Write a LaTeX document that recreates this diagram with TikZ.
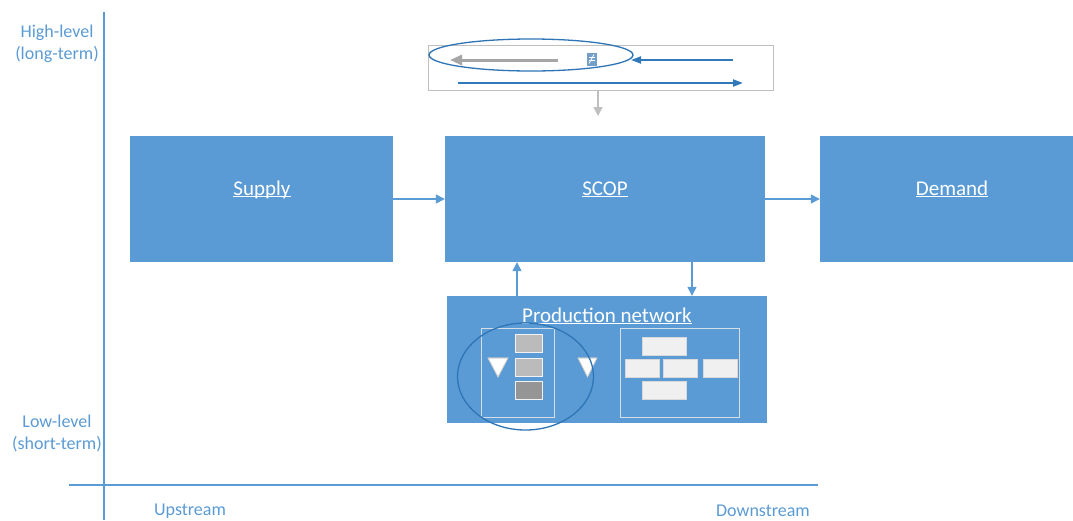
\documentclass[tikz,border=0pt]{standalone}
\usepackage{fontspec}
\setmainfont{Carlito}
\usetikzlibrary{arrows.meta,shapes.geometric}
\definecolor{mblue}{HTML}{5B9BD5}
\definecolor{dblue}{HTML}{2E75B6}
\definecolor{agray}{HTML}{A6A6A6}
\definecolor{dgray}{HTML}{BFBFBF}
\definecolor{frame}{HTML}{D5DDE6}
\newlength\ullen
\newcommand\myul[1]{\settowidth{\ullen}{#1}\rlap{\rule[-2.4pt]{\ullen}{1pt}}#1}
\tikzset{
  bluebox/.style={fill=mblue, draw=none, inner sep=0pt},
  boxlabel/.style={text=white, font=\fontsize{21}{25}\selectfont, inner sep=0pt, anchor=base},
  axlabel/.style={text=mblue, font=\fontsize{18}{22}\selectfont, align=center, inner sep=0pt},
  conn/.style={draw=mblue, line width=1.3pt, -{Triangle[length=9pt,width=9pt]}},
  thinblue/.style={draw=dblue!90!mblue, line width=2pt, -{Triangle[length=10pt,width=7pt]}},
  grayarr/.style={draw=agray, line width=3pt, -{Triangle[length=12pt,width=10pt]}},
  downarr/.style={draw=dgray, line width=1.5pt, -{Triangle[length=9pt,width=9pt]}},
  ring/.style={ellipse, draw=dblue, line width=1.3pt, inner sep=0pt},
  framebox/.style={draw=frame, line width=0.8pt, fill=none, inner sep=0pt},
  gbox/.style={fill=dgray!85!agray, draw=white!80!dgray, line width=1pt, inner sep=0pt},
  wbox/.style={fill=white!94!black, draw=white!85!black, line width=1pt, inner sep=0pt},
  tri/.style={fill=white, draw=white!80!black, line width=0.6pt}
}
\begin{document}
\begin{tikzpicture}[x=1pt,y=-1pt]
\clip (0,0) rectangle (1073,520);
\fill[white] (0,0) rectangle (1073,520);

% axes
\coordinate (vtop) at (104,12);
\coordinate (vbot) at (104,520);
\coordinate (hl) at (69,485);
\coordinate (hr) at (818,485);
\draw[mblue, line width=1.3pt] (vtop) -- (vbot);
\draw[mblue, line width=1.3pt] (hl) -- (hr);

% axis labels
\node[axlabel] (hi) at (57,44) {High-level\\(long-term)};
\node[axlabel] (lo) at (57,433) {Low-level\\(short-term)};
\node[axlabel] (up) at (190,511) {Upstream};
\node[axlabel] (down) at (763,511) {Downstream};

% main boxes
\node[bluebox, minimum width=263pt, minimum height=126pt] (supply) at (261.5,199) {};
\node[bluebox, minimum width=320pt, minimum height=126pt] (scop) at (605,199) {};
\node[bluebox, minimum width=253pt, minimum height=126pt] (demand) at (946.5,199) {};
\node[boxlabel] (supplyl) at (262,195) {\myul{Supply}};
\node[boxlabel] (scopl) at (605,195) {\myul{SCOP}};
\node[boxlabel] (demandl) at (952,195) {\myul{Demand}};

% production network
\node[bluebox, minimum width=320pt, minimum height=127pt] (pn) at (607,359.5) {};
\node[boxlabel] (pnl) at (607,322) {\myul{Production network}};

% connectors
\draw[conn] (supply.east) -- (scop.west);
\draw[conn] (scop.east) -- (demand.west);
\coordinate (ux) at (517,0);
\coordinate (dx) at (692,0);
\draw[conn] (ux |- pn.north) -- (ux |- scop.south);
\draw[conn] (dx |- scop.south) -- (dx |- pn.north);

% top thumbnail
\node[draw=dgray, fill=white, line width=0.8pt, minimum width=345pt, minimum height=45pt, inner sep=0pt] (thumb) at (600.5,67.5) {};
\coordinate (ga1) at (558,60);
\coordinate (ga2) at (450,60);
\draw[grayarr] (ga1) -- (ga2);
\coordinate (ba1) at (733,60);
\coordinate (ba2) at (631,60);
\draw[thinblue] (ba1) -- (ba2);
\coordinate (bb1) at (458,83);
\coordinate (bb2) at (743,83);
\draw[thinblue] (bb1) -- (bb2);
\node[fill=mblue!70!agray, minimum width=10pt, minimum height=13pt, inner sep=0pt] (neq) at (591.5,59) {};
\draw[white, line width=0.8pt] ([xshift=-3pt,yshift=1.5pt]neq.center) -- ++(6,0);
\draw[white, line width=0.8pt] ([xshift=-3pt,yshift=-1pt]neq.center) -- ++(6,0);
\draw[white, line width=0.8pt] ([xshift=-2.5pt,yshift=-4.5pt]neq.center) -- ([xshift=2.5pt,yshift=4.5pt]neq.center);
\node[ring, minimum width=204pt, minimum height=32pt] (ring1) at (531,55) {};
\coordinate (dend) at (598,116);
\draw[downarr] (thumb.south -| dend) -- (dend);

% production network thumbnail contents
\node[framebox, minimum width=73pt, minimum height=89pt] (lf) at (517.5,373) {};
\node[framebox, minimum width=119pt, minimum height=89pt] (rf) at (679.5,373) {};
\node[gbox, minimum width=27pt, minimum height=18pt] (g1) at (528.5,343.5) {};
\node[gbox, minimum width=27pt, minimum height=18pt] (g2) at (528.5,367) {};
\node[gbox, fill=agray!90!black, minimum width=27pt, minimum height=18pt] (g3) at (528.5,390.5) {};
\fill[tri] (488,358) -- (508,358) -- (498,377) -- cycle;
\fill[tri] (578,358) -- (597,358) -- (587.5,377) -- cycle;
\draw[tri, fill=none] (488,358) -- (508,358) -- (498,377) -- cycle;
\draw[tri, fill=none] (578,358) -- (597,358) -- (587.5,377) -- cycle;
\node[wbox, minimum width=44pt, minimum height=18pt] (w1) at (664,346) {};
\node[wbox, minimum width=34pt, minimum height=18pt] (w2) at (642,368.5) {};
\node[wbox, minimum width=34pt, minimum height=18pt] (w3) at (680,368.5) {};
\node[wbox, minimum width=34pt, minimum height=18pt] (w4) at (720,368.5) {};
\node[wbox, minimum width=44pt, minimum height=18pt] (w5) at (664,390.5) {};
\node[ring, minimum width=136pt, minimum height=107pt] (ring2) at (525.5,376.5) {};
\end{tikzpicture}
\end{document}
